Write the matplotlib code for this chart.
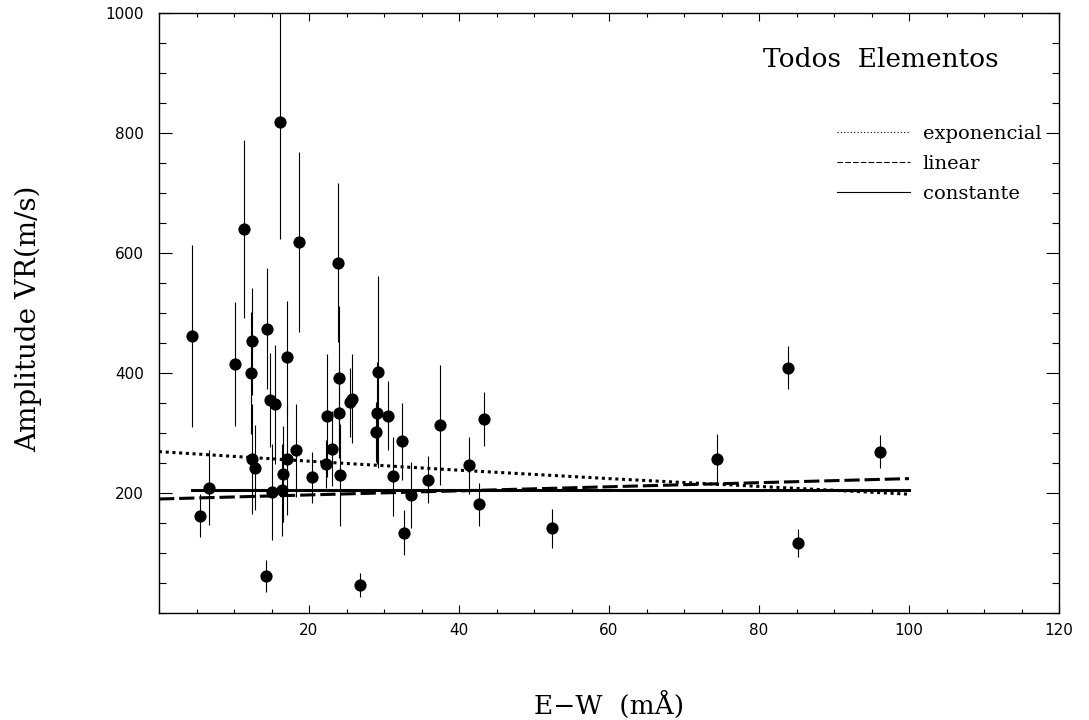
import numpy as np
import matplotlib
matplotlib.use("Agg")
import matplotlib.pyplot as plt
from matplotlib.ticker import MultipleLocator, FixedLocator
from matplotlib.lines import Line2D

# equivalent width (mA) of each element line
ew = [4.4, 5.5, 6.7, 10.1, 11.3, 12.4, 12.2, 14.4, 14.2, 14.8,
      15.4, 17.0, 12.4, 12.8, 15.0, 16.4, 16.5, 17.0, 18.2, 18.7,
      16.1, 23.8, 20.4, 22.4, 22.3, 23.0, 24.0, 24.0, 24.1, 25.4,
      25.7, 26.8, 29.2, 29.0, 28.9, 30.5, 31.2, 32.4, 32.7, 33.6,
      35.8, 37.4, 41.3, 42.7, 43.3, 52.4, 74.4, 83.8, 85.2, 96.1]
# RV amplitude (m/s)
amp = [462, 162, 209, 415, 640, 453, 400, 474, 62, 355,
       348, 426, 257, 242, 201, 205, 232, 256, 271, 618,
       819, 584, 226, 329, 249, 274, 391, 333, 230, 351,
       357, 46, 402, 333, 302, 329, 228, 286, 134, 197,
       222, 314, 246, 181, 324, 141, 256, 409, 117, 269]
amp_err = [152, 36, 63, 104, 148, 89, 102, 101, 27, 79,
           99, 94, 92, 71, 80, 76, 80, 93, 77, 150,
           196, 132, 43, 102, 40, 63, 120, 75, 85, 57,
           74, 20, 160, 85, 50, 57, 66, 64, 37, 55,
           39, 100, 48, 36, 45, 33, 42, 36, 23, 28]

# fitted curves
exp_x = [0, 20, 40, 60, 80, 100]
exp_y = [269, 253, 238, 224, 211, 198]
lin_x = [0, 100]
lin_y = [190, 224]
const_x = [4.4, 100]
const_y = [205, 205]

fit_labels = ["exponencial", "linear", "constante"]

serif = "DejaVu Serif"

fig = plt.figure(figsize=(10.89, 7.2), dpi=100)
ax = fig.add_axes([159/1089, 107/720, 900/1089, 600/720])

ax.errorbar(ew, amp, yerr=amp_err, fmt='none', ecolor='black',
            elinewidth=0.8, capsize=0)
ax.plot(ew, amp, 'o', color='black', ms=8.8, mew=0)

ax.plot(exp_x, exp_y, color='black', lw=2.2, ls=(0, (1, 1.2)))
ax.plot(lin_x, lin_y, color='black', lw=2.2, ls=(0, (5, 1.6)))
ax.plot(const_x, const_y, color='black', lw=2.2, ls='-')

ax.set_xlim(0, 120)
ax.set_ylim(0, 1000)
ax.xaxis.set_major_locator(FixedLocator([20, 40, 60, 80, 100, 120]))
ax.yaxis.set_major_locator(FixedLocator([200, 400, 600, 800, 1000]))
ax.xaxis.set_minor_locator(MultipleLocator(5))
ax.yaxis.set_minor_locator(MultipleLocator(50))
ax.tick_params(which='both', direction='in', top=True, right=True,
               width=0.8, labelsize=11)
ax.tick_params(axis='x', which='major', length=5.8, pad=7)
ax.tick_params(axis='x', which='minor', length=2.9)
ax.tick_params(axis='y', which='major', length=9.4, pad=11)
ax.tick_params(axis='y', which='minor', length=4.7)
for s in ax.spines.values():
    s.set_linewidth(1.0)

ax.set_xlabel("E\u2212W  (m\u00c5)", fontsize=19, family=serif, va='center')
ax.xaxis.set_label_coords(0.5, -0.153)
ax.set_ylabel("Amplitude VR(m/s)", fontsize=20, family=serif, va='center')
ax.yaxis.set_label_coords(-0.1456, 0.49)

ax.text(96.3, 923, "Todos  Elementos", fontsize=19, family=serif,
        ha='center', va='center')

handles = [Line2D([], [], color='black', lw=0.8, ls=(0, (1, 2))),
           Line2D([], [], color='black', lw=0.8, ls=(0, (5, 2))),
           Line2D([], [], color='black', lw=0.8, ls='-')]
ax.legend(handles, fit_labels, loc='upper left',
          bbox_to_anchor=(0.7533, 0.813), frameon=False, borderpad=0,
          borderaxespad=0, handlelength=3.76, handletextpad=0.65,
          labelspacing=0.61, prop={'family': serif, 'size': 14})

fig.savefig("out.png", dpi=100)
